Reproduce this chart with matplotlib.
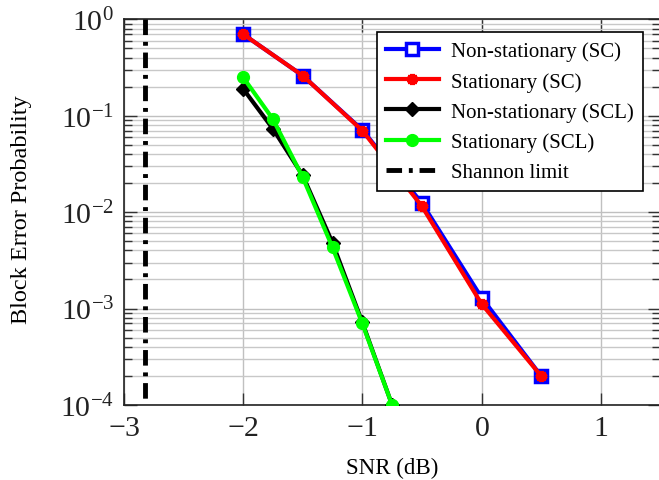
import matplotlib

matplotlib.use("Agg")
import matplotlib.pyplot as plt
from matplotlib.ticker import LogLocator, NullFormatter, MultipleLocator


SNR_SC = [-2.0, -1.5, -1.0, -0.5, 0.0, 0.5]
BLER_NONSTAT_SC = [0.70, 0.26, 0.071, 0.0124, 1.3e-3, 2.0e-4]
BLER_STAT_SC = [0.70, 0.26, 0.070, 0.0115, 1.12e-3, 2.0e-4]

SNR_SCL = [-2.0, -1.75, -1.5, -1.25, -1.0, -0.75]
BLER_NONSTAT_SCL = [0.19, 0.073, 0.024, 4.8e-3, 7.2e-4, 1.0e-4]
BLER_STAT_SCL = [0.25, 0.092, 0.023, 4.3e-3, 7.0e-4, 1.0e-4]

SHANNON_SNR = -2.82
SHANNON_RANGE = [1.0, 1.0e-4]

plt.rcParams["font.family"] = ["Liberation Serif", "DejaVu Serif"]
plt.rcParams["mathtext.fontset"] = "cm"
plt.rcParams["axes.formatter.use_mathtext"] = True

fig = plt.figure(figsize=(6.59, 4.81), dpi=100)
ax = fig.add_axes([0.188, 0.156, 0.814, 0.802])

ax.plot(SNR_SC, BLER_NONSTAT_SC, color="blue", lw=3, marker="s", ms=9,
        mfc="white", mec="blue", mew=2.5, label="Non-stationary (SC)", zorder=3)
ax.plot(SNR_SC, BLER_STAT_SC, color="red", lw=3, marker=(6, 2, 0), ms=8,
        mec="red", mew=3.5, label="Stationary (SC)", zorder=4)
ax.plot(SNR_SCL, BLER_NONSTAT_SCL, color="black", lw=3, marker="D", ms=7.5,
        mfc="black", mec="black", label="Non-stationary (SCL)", zorder=3)
ax.plot(SNR_SCL, BLER_STAT_SCL, color="#00ff00", lw=3, marker="o", ms=8.5,
        mfc="#00ff00", mec="#00ff00", label="Stationary (SCL)", zorder=4)
ax.plot([SHANNON_SNR, SHANNON_SNR], SHANNON_RANGE, color="black", lw=3.5,
        dashes=(3.2, 1.4, 0.8, 1.4), label="Shannon limit", zorder=3)

ax.set_yscale("log")
ax.set_xlim(-3, 1.5)
ax.set_ylim(1e-4, 1)
ax.xaxis.set_major_locator(MultipleLocator(1))
ax.yaxis.set_major_locator(LogLocator(base=10, numticks=10))
ax.yaxis.set_minor_locator(LogLocator(base=10, subs=range(2, 10), numticks=20))
ax.yaxis.set_minor_formatter(NullFormatter())

ax.grid(True, which="major", color="#c0c0c0", lw=1)
ax.grid(True, which="minor", axis="y", color="#c8c8c8", lw=1)
ax.set_axisbelow(True)
ax.tick_params(which="both", direction="in", top=True, right=True,
               labelsize=21.5, color="#333333", labelcolor="#222222")
ax.tick_params(which="major", length=9, width=1, pad=7)
ax.tick_params(which="minor", length=6, width=1)
for spine in ax.spines.values():
    spine.set_linewidth(1.2)
    spine.set_color("#222222")

ax.set_xlabel("SNR (dB)", fontsize=16.5)
ax.xaxis.set_label_coords(0.5, -0.135)
ax.set_ylabel("Block Error Probability", fontsize=17.5)
ax.yaxis.set_label_coords(-0.172, 0.51)

leg = ax.legend(loc="upper right", bbox_to_anchor=(0.968, 0.966), fontsize=15,
                fancybox=False, framealpha=1, edgecolor="black",
                handlelength=2.5, handletextpad=0.6, borderpad=0.45,
                labelspacing=0.5, borderaxespad=0)
leg.get_frame().set_linewidth(1.2)

fig.savefig("out.png", dpi=100)
